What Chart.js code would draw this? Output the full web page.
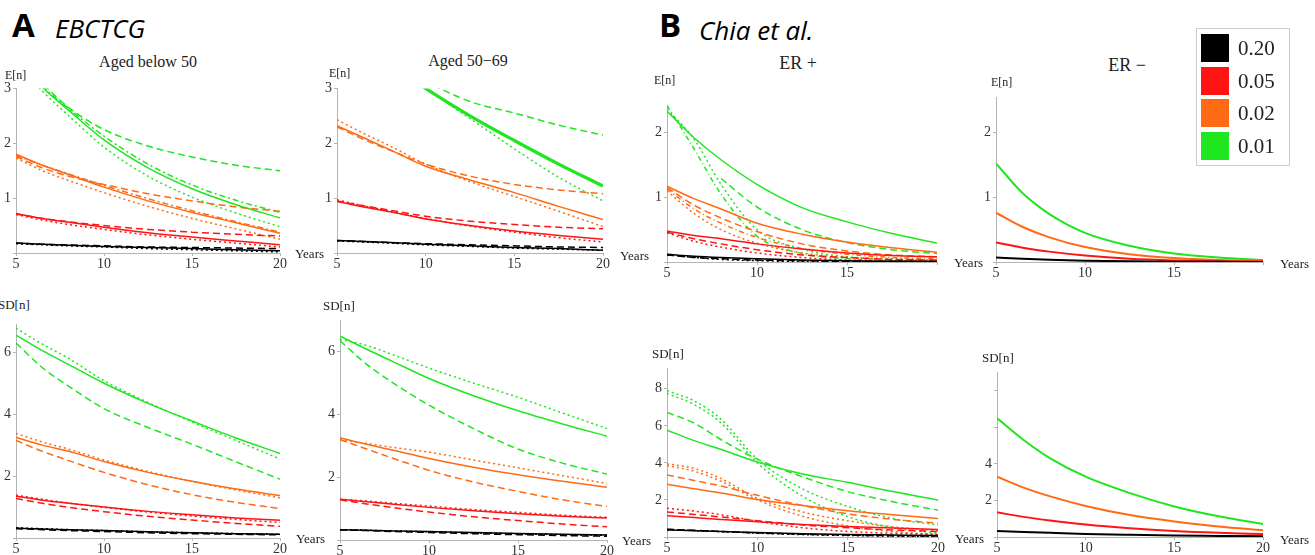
<!DOCTYPE html>
<html>
<head>
<meta charset="utf-8">
<script src="https://cdn.jsdelivr.net/npm/chart.js@4.4.1/dist/chart.umd.min.js"></script>
<style>
body { margin: 0; background: #fff; width: 1315px; height: 555px; position: relative; overflow: hidden; font-family: "Liberation Serif", serif; }
canvas { position: absolute; }
.t { position: absolute; white-space: nowrap; line-height: 1; color: #222; z-index: 2; }
.lc { transform: translate(0, -50%); }
.cc { transform: translate(-50%, -50%); }
.big { font-family: "Open Sans", sans-serif; font-weight: bold; font-size: 33px; color: #000; }
.src { font-family: "Open Sans", sans-serif; font-style: italic; font-size: 26px; color: #000; }
.ttl { font-size: 16px; }
.ax { font-size: 12px; }
.sd { font-size: 13px; }
.yr { font-size: 13px; }
#legend { position: absolute; left: 1196px; top: 28px; width: 92px; height: 136px; border: 1px solid #ccc; z-index: 2; }
.sw { position: absolute; left: 4px; width: 28px; height: 28px; }
.lt { position: absolute; left: 41px; font-size: 21px; line-height: 1; transform: translate(0, -50%); color: #222; }
</style>
</head>
<body>

<div class="t big lc" style="left:12px; top:24px;">A</div>
<div class="t src lc" style="left:55px; top:28px;">EBCTCG</div>
<div class="t big lc" style="left:659px; top:24px;">B</div>
<div class="t src lc" style="left:699px; top:30px;">Chia et al.</div>

<div class="t ttl cc" style="left:148px; top:62px;">Aged below 50</div>
<div class="t ttl cc" style="left:468px; top:61px;">Aged 50−69</div>
<div class="t ttl cc" style="left:798px; top:63px; font-size:18px;">ER +</div>
<div class="t ttl cc" style="left:1127px; top:65px; font-size:18px;">ER −</div>

<div class="t ax lc" style="left:5px; top:75px;">E[n]</div>
<div class="t ax lc" style="left:329px; top:73px;">E[n]</div>
<div class="t ax lc" style="left:654px; top:80px;">E[n]</div>
<div class="t ax lc" style="left:991px; top:82px;">E[n]</div>

<div class="t sd lc" style="left:-2px; top:304px;">SD[n]</div>
<div class="t sd lc" style="left:323px; top:305px;">SD[n]</div>
<div class="t sd lc" style="left:652px; top:353px;">SD[n]</div>
<div class="t sd lc" style="left:982px; top:357px;">SD[n]</div>

<div class="t yr lc" style="left:295px; top:253px;">Years</div>
<div class="t yr lc" style="left:620px; top:255px;">Years</div>
<div class="t yr lc" style="left:296px; top:538px;">Years</div>
<div class="t yr lc" style="left:622px; top:540px;">Years</div>
<div class="t yr lc" style="left:954px; top:262px;">Years</div>
<div class="t yr lc" style="left:1280px; top:263px;">Years</div>
<div class="t yr lc" style="left:955px; top:538px;">Years</div>
<div class="t yr lc" style="left:1280px; top:539px;">Years</div>

<div id="legend"></div>

<script>
// sample years shared by every curve
var years = [5, 6.5, 8, 10, 12.5, 15, 17.5, 20];
var thresholds = ['0.20', '0.05', '0.02', '0.01'];

// each list: solid, dashed, dotted, (extra)
// A - aged below 50, E[n]
var belowMeanBlack  = [[0.18,0.16,0.14,0.12,0.10,0.08,0.06,0.04],[0.18,0.16,0.145,0.13,0.11,0.10,0.09,0.08],[0.17,0.15,0.13,0.11,0.08,0.06,0.04,0.02]];
var belowMeanRed    = [[0.72,0.63,0.56,0.47,0.37,0.29,0.22,0.15],[0.71,0.63,0.57,0.50,0.43,0.38,0.34,0.31],[0.70,0.60,0.52,0.43,0.33,0.25,0.18,0.11]];
var belowMeanOrange = [[1.80,1.60,1.43,1.20,0.95,0.74,0.55,0.36],[1.76,1.55,1.40,1.25,1.08,0.95,0.84,0.76],[1.73,1.50,1.32,1.10,0.85,0.63,0.44,0.25],[1.78,1.60,1.44,1.23,0.99,0.77,0.57,0.38]];
var belowMeanGreen  = [[3.55,3.02,2.60,2.06,1.55,1.17,0.88,0.64],[3.70,3.10,2.65,2.25,1.95,1.75,1.60,1.50],[3.50,2.95,2.50,1.93,1.40,1.02,0.73,0.48],[3.65,3.05,2.63,2.13,1.62,1.24,0.96,0.74]];

// A - aged 50-69, E[n]
var midMeanBlack  = [[0.23,0.21,0.19,0.16,0.13,0.10,0.08,0.05],[0.23,0.21,0.19,0.17,0.15,0.13,0.11,0.10],[0.22,0.20,0.18,0.15,0.12,0.09,0.07,0.05]];
var midMeanRed    = [[0.94,0.84,0.75,0.62,0.50,0.40,0.32,0.25],[0.95,0.86,0.78,0.67,0.58,0.52,0.47,0.44],[0.97,0.86,0.76,0.63,0.49,0.38,0.28,0.20]];
var midMeanOrange = [[2.32,2.10,1.88,1.58,1.33,1.10,0.85,0.61],[2.30,2.07,1.87,1.62,1.40,1.25,1.15,1.08],[2.43,2.18,1.95,1.62,1.30,1.03,0.76,0.48]];
var midMeanGreen  = [[4.40,3.90,3.45,3.00,2.50,2.05,1.62,1.22],[4.00,3.65,3.40,3.12,2.76,2.55,2.33,2.15],[4.40,3.90,3.45,3.00,2.45,1.90,1.38,0.95]];

// A - aged below 50, SD[n]
var belowSdBlack  = [[0.32,0.29,0.27,0.24,0.20,0.17,0.14,0.12],[0.30,0.27,0.24,0.21,0.17,0.14,0.12,0.10],[0.33,0.30,0.27,0.24,0.20,0.17,0.14,0.12]];
var belowSdRed    = [[1.35,1.22,1.12,1.00,0.86,0.75,0.65,0.57],[1.28,1.12,0.99,0.85,0.70,0.58,0.47,0.38],[1.38,1.25,1.13,0.99,0.84,0.71,0.60,0.50]];
var belowSdOrange = [[3.25,3.00,2.80,2.47,2.12,1.83,1.58,1.37],[3.15,2.80,2.50,2.12,1.72,1.40,1.15,0.95],[3.38,3.10,2.87,2.52,2.15,1.83,1.55,1.30]];
var belowSdGreen  = [[6.55,6.05,5.60,5.00,4.35,3.78,3.23,2.73],[6.30,5.50,4.90,4.18,3.57,3.03,2.46,1.90],[6.78,6.26,5.80,5.08,4.38,3.75,3.15,2.55]];

// A - aged 50-69, SD[n]
var midSdBlack  = [[0.33,0.31,0.29,0.27,0.24,0.21,0.18,0.16],[0.32,0.30,0.27,0.24,0.20,0.17,0.14,0.12],[0.33,0.31,0.29,0.26,0.23,0.20,0.17,0.15]];
var midSdRed    = [[1.30,1.22,1.14,1.04,0.93,0.84,0.76,0.70],[1.28,1.15,1.03,0.89,0.74,0.62,0.51,0.42],[1.30,1.24,1.17,1.08,0.97,0.88,0.79,0.72]];
var midSdOrange = [[3.26,3.05,2.86,2.60,2.32,2.08,1.87,1.68],[3.20,2.90,2.60,2.22,1.85,1.55,1.28,1.07],[3.20,3.08,2.95,2.80,2.55,2.30,2.05,1.80]];
var midSdGreen  = [[6.50,6.08,5.68,5.15,4.60,4.12,3.70,3.31],[6.35,5.60,5.00,4.30,3.55,2.90,2.45,2.10],[6.40,6.20,5.90,5.48,5.00,4.55,4.05,3.55]];

// B - ER+, E[n]
var erPosMeanBlack  = [[0.12,0.09,0.07,0.05,0.03,0.02,0.01,0.01],[0.11,0.07,0.05,0.03,0.02,0.01,0.01,0.00],[0.11,0.07,0.04,0.02,0.01,0.01,0.00,0.00]];
var erPosMeanRed    = [[0.48,0.41,0.36,0.28,0.20,0.14,0.10,0.08],[0.46,0.36,0.28,0.19,0.11,0.07,0.04,0.03],[0.45,0.32,0.23,0.14,0.07,0.03,0.02,0.01]];
var erPosMeanOrange = [[1.17,0.98,0.82,0.60,0.43,0.31,0.22,0.15],[1.15,0.88,0.68,0.47,0.28,0.17,0.11,0.08],[1.10,0.75,0.50,0.29,0.14,0.07,0.04,0.02],[1.13,0.82,0.60,0.38,0.21,0.12,0.07,0.05]];
var erPosMeanGreen  = [[2.33,1.92,1.58,1.20,0.84,0.62,0.44,0.29],[null,null,1.29,0.85,0.50,0.30,0.19,0.13],[2.36,1.90,1.20,0.50,0.20,0.08,0.05,0.03],[2.42,1.75,1.05,0.40,0.13,0.05,0.02,0.01]];

// B - ER-, E[n]
var erNegMeanBlack  = [[0.07,0.05,0.035,0.02,0.01,0.005,0.002,0.001]];
var erNegMeanRed    = [[0.30,0.22,0.16,0.10,0.05,0.025,0.013,0.006]];
var erNegMeanOrange = [[0.76,0.54,0.38,0.23,0.12,0.06,0.03,0.015]];
var erNegMeanGreen  = [[1.52,1.06,0.74,0.45,0.25,0.13,0.07,0.03]];

// B - ER+, SD[n]
var erPosSdBlack  = [[0.38,0.34,0.30,0.24,0.18,0.14,0.11,0.08],[0.42,0.36,0.30,0.22,0.15,0.10,0.07,0.05],[0.40,0.35,0.29,0.21,0.13,0.08,0.05,0.03]];
var erPosSdRed    = [[1.15,1.05,0.95,0.82,0.68,0.57,0.48,0.40],[1.35,1.22,1.08,0.88,0.65,0.50,0.38,0.30],[1.55,1.40,1.20,0.85,0.50,0.30,0.20,0.15]];
var erPosSdOrange = [[2.85,2.60,2.38,2.02,1.70,1.42,1.20,1.00],[3.35,3.05,2.75,2.25,1.70,1.25,0.95,0.75],[3.95,3.70,3.15,2.10,1.35,0.88,0.55,0.35],[3.85,3.55,3.00,2.00,1.12,0.60,0.30,0.12]];
var erPosSdGreen  = [[5.77,5.20,4.72,4.05,3.40,2.95,2.45,2.00],[6.72,6.15,5.25,4.20,3.25,2.45,1.90,1.45],[7.90,7.35,6.35,4.20,2.60,1.65,1.00,0.65],[7.75,7.15,6.15,4.00,2.20,1.10,0.50,0.20]];

// B - ER-, SD[n]
var erNegSdBlack  = [[0.33,0.28,0.23,0.17,0.12,0.08,0.06,0.04]];
var erNegSdRed    = [[1.35,1.10,0.90,0.68,0.48,0.33,0.23,0.16]];
var erNegSdOrange = [[3.30,2.70,2.22,1.70,1.20,0.85,0.58,0.37]];
var erNegSdGreen  = [[6.50,5.30,4.30,3.30,2.40,1.67,1.13,0.71]];

var COLORS = ['#000000', '#ff1414', '#ff6a14', '#1fe61f'];
var DASHES = [[], [7, 4], [2, 3]];

// plot area boxes in page pixels: left (year 5), right (year 20), top (yMax), bottom (0)
var panels = [
    { box: [16, 280, 88, 253],  yMax: 3,    yStep: 1, yLabels: [1, 2, 3],    xLabels: [5, 10, 15, 20], extra: [6, 3, 2, 3], groups: [belowMeanBlack, belowMeanRed, belowMeanOrange, belowMeanGreen] },
    { box: [337, 603, 88, 253], yMax: 3,    yStep: 1, yLabels: [1, 2, 3],    xLabels: [5, 10, 15, 20], extra: [6, 3, 2, 3], thick: true, groups: [midMeanBlack, midMeanRed, midMeanOrange, midMeanGreen] },
    { box: [16, 280, 324, 538], yMax: 6.9,  yStep: 2, yLabels: [2, 4, 6],    xLabels: [5, 10, 15, 20], extra: [6, 3, 2, 3], groups: [belowSdBlack, belowSdRed, belowSdOrange, belowSdGreen] },
    { box: [340, 607, 320, 540], yMax: 7.0, yStep: 2, yLabels: [2, 4, 6],    xLabels: [5, 10, 15, 20], extra: [6, 3, 2, 3], groups: [midSdBlack, midSdRed, midSdOrange, midSdGreen] },
    { box: [667, 937, 105, 262], yMax: 2.42, yStep: 1, yLabels: [1, 2],      xLabels: [5, 10, 15],     extra: [5, 3, 1, 3], groups: [erPosMeanBlack, erPosMeanRed, erPosMeanOrange, erPosMeanGreen] },
    { box: [996, 1263, 97, 262], yMax: 2.54, yStep: 1, yLabels: [1, 2],      xLabels: [5, 10, 15],     extra: [6, 3, 2, 3], single: true, groups: [erNegMeanBlack, erNegMeanRed, erNegMeanOrange, erNegMeanGreen] },
    { box: [667, 938, 368, 537], yMax: 9.1, yStep: 2, yLabels: [2, 4, 6, 8], xLabels: [5, 10, 15, 20], extra: [2, 3],       groups: [erPosSdBlack, erPosSdRed, erPosSdOrange, erPosSdGreen] },
    { box: [997, 1263, 372, 537], yMax: 9.0, yStep: 2, yLabels: [2, 4],      xLabels: [5, 10, 15, 20], extra: [6, 3, 2, 3], single: true, groups: [erNegSdBlack, erNegSdRed, erNegSdOrange, erNegSdGreen] }
];

var tickFont = { family: 'Liberation Serif', size: 14 };

function makeDatasets(p) {
    var sets = [];
    p.groups.forEach(function(group, ci) {
        group.forEach(function(vals, si) {
            var w = p.single ? 2 : 1.5;
            if (p.thick && ci === 3 && si === 0) { w = 3.2; }
            sets.push({
                data: years.map(function(x, i) { return { x: x, y: vals[i] }; }),
                borderColor: COLORS[ci],
                borderWidth: w,
                borderDash: si < 3 ? DASHES[si] : p.extra,
                pointRadius: 0,
                fill: false,
                cubicInterpolationMode: 'monotone'
            });
        });
    });
    return sets;
}

var padL = 18, padR = 12, padT = 10, padB = 20;

panels.forEach(function(p) {
    var cv = document.createElement('canvas');
    var w = p.box[1] - p.box[0] + padL + padR;
    var h = p.box[3] - p.box[2] + padT + padB;
    cv.width = w; cv.height = h;
    cv.style.left = (p.box[0] - padL) + 'px';
    cv.style.top = (p.box[2] - padT) + 'px';
    cv.style.width = w + 'px';
    cv.style.height = h + 'px';
    document.body.appendChild(cv);

    new Chart(cv, {
        type: 'line',
        data: { datasets: makeDatasets(p) },
        options: {
            responsive: false, animation: false,
            layout: { padding: { left: 0, right: padR, top: padT, bottom: 0 } },
            plugins: { legend: { display: false }, tooltip: { enabled: false } },
            scales: {
                x: {
                    type: 'linear', min: 5, max: 20,
                    afterFit: function(s) { s.height = padB; },
                    border: { color: '#b4b4b4', width: 1 },
                    grid: { drawOnChartArea: false, tickLength: 3, color: '#b4b4b4' },
                    ticks: { stepSize: 5, includeBounds: false, padding: 0, maxRotation: 0, color: '#333', font: tickFont,
                        callback: function(v) { return p.xLabels.indexOf(v) >= 0 ? String(v) : ''; } }
                },
                y: {
                    type: 'linear', min: 0, max: p.yMax,
                    afterFit: function(s) { s.width = padL; },
                    border: { color: '#b4b4b4', width: 1 },
                    grid: { drawOnChartArea: false, tickLength: 3, color: '#b4b4b4' },
                    ticks: { stepSize: p.yStep, includeBounds: false, padding: 2, color: '#333', font: tickFont,
                        callback: function(v) { return p.yLabels.indexOf(v) >= 0 ? String(v) : ''; } }
                }
            }
        }
    });
});

// legend built from thresholds
var legend = document.getElementById('legend');
var rowTops = [5, 38, 70, 103];
thresholds.forEach(function(label, i) {
    var sw = document.createElement('div');
    sw.className = 'sw';
    sw.style.top = rowTops[i] + 'px';
    sw.style.background = COLORS[i];
    legend.appendChild(sw);
    var tx = document.createElement('div');
    tx.className = 'lt';
    tx.style.top = (rowTops[i] + 14) + 'px';
    tx.textContent = label;
    legend.appendChild(tx);
});
</script>
</body>
</html>
